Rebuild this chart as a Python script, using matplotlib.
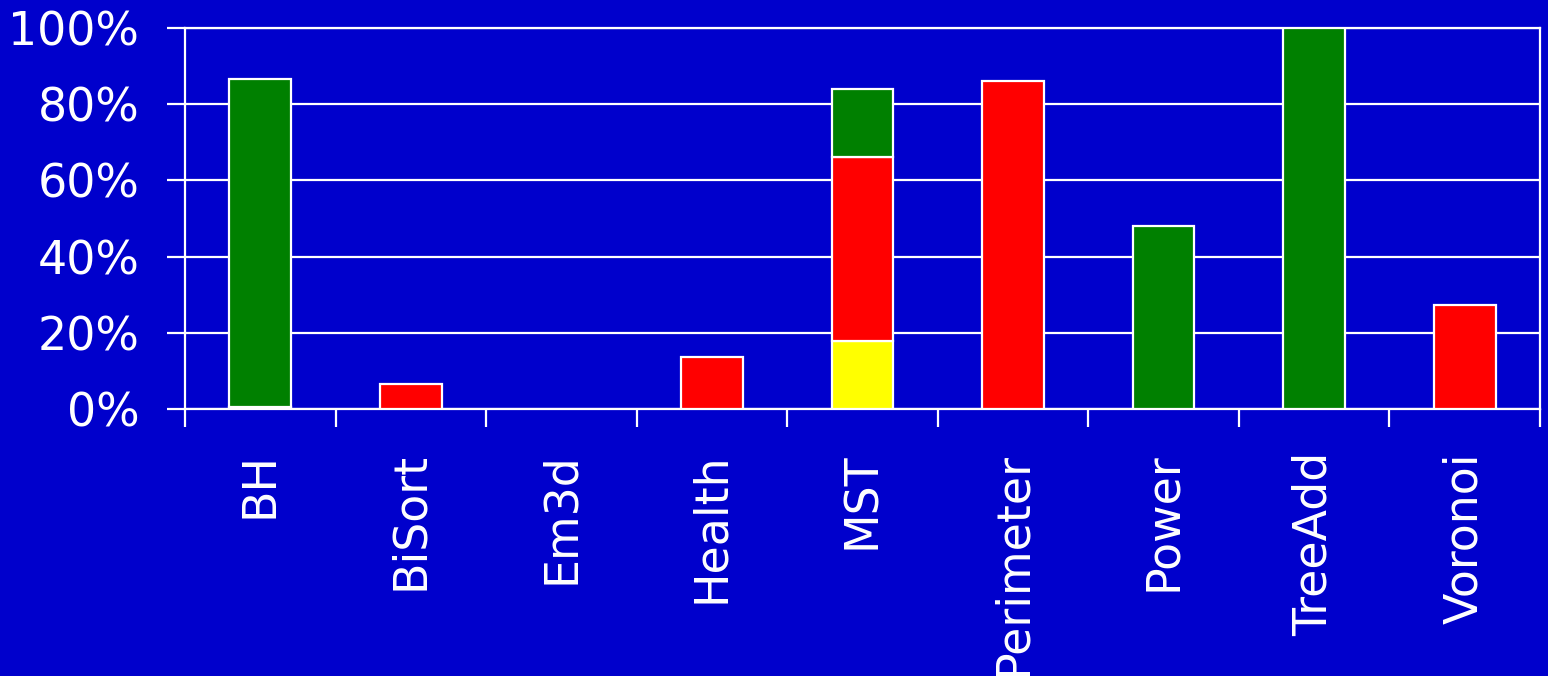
import numpy as np
import matplotlib.pyplot as plt
from matplotlib.ticker import FixedLocator

# benchmarks and the three stacked shares (percent)
benchmarks = ['BH', 'BiSort', 'Em3d', 'Health', 'MST', 'Perimeter', 'Power', 'TreeAdd', 'Voronoi']
yellow_part = [0.6, 0, 0, 0, 17.9, 0, 0, 0, 0]
red_part = [0, 6.6, 0, 13.6, 48.2, 86.1, 0, 0, 27.3]
green_part = [86.0, 0, 0, 0, 17.8, 0, 48.0, 100.0, 0]
y_ticks = [0, 20, 40, 60, 80, 100]

bg = '#0000CC'
plt.rcParams['font.family'] = ['DejaVu Sans']

fig = plt.figure(figsize=(15.48, 6.76), dpi=100)
fig.patch.set_facecolor(bg)
ax = fig.add_axes([185 / 1548, 1 - 409 / 676, (1540 - 185) / 1548, (409 - 28) / 676])
ax.set_facecolor(bg)

x = np.arange(len(benchmarks))
w = 0.41
edge = dict(edgecolor='white', linewidth=1.6, zorder=3)
bottom = np.zeros(len(benchmarks))
for part, col in [(yellow_part, '#FFFF00'), (red_part, '#FF0000'), (green_part, '#008000')]:
    vals = np.array(part, dtype=float)
    mask = vals > 0
    ax.bar(x[mask], vals[mask], w, bottom=bottom[mask], color=col, **edge)
    bottom += vals

ax.set_xlim(-0.5, len(benchmarks) - 0.5)
ax.set_ylim(0, 100)
ax.set_yticks(y_ticks)
ax.set_yticklabels([f'{v}%' for v in y_ticks])
ax.yaxis.grid(True, color='white', linewidth=1.6, zorder=0)
ax.set_axisbelow(True)

# category boundaries carry the tick marks, centers carry the labels
ax.xaxis.set_major_locator(FixedLocator(np.arange(-0.5, len(benchmarks), 1.0)))
ax.xaxis.set_major_formatter(plt.NullFormatter())
ax.xaxis.set_minor_locator(FixedLocator(x))
ax.set_xticklabels(benchmarks, minor=True, rotation=90, va='top', ha='center')
ax.tick_params(axis='x', which='major', direction='out', length=13, width=1.6, color='white')
ax.tick_params(axis='x', which='minor', length=0, pad=31, labelsize=33, labelcolor='white')
ax.tick_params(axis='y', direction='out', length=13, width=1.6, color='white',
               pad=20, labelsize=33, labelcolor='white')

for s in ax.spines.values():
    s.set_color('white')
    s.set_linewidth(1.6)

fig.savefig('out.png', dpi=100, facecolor=bg)
